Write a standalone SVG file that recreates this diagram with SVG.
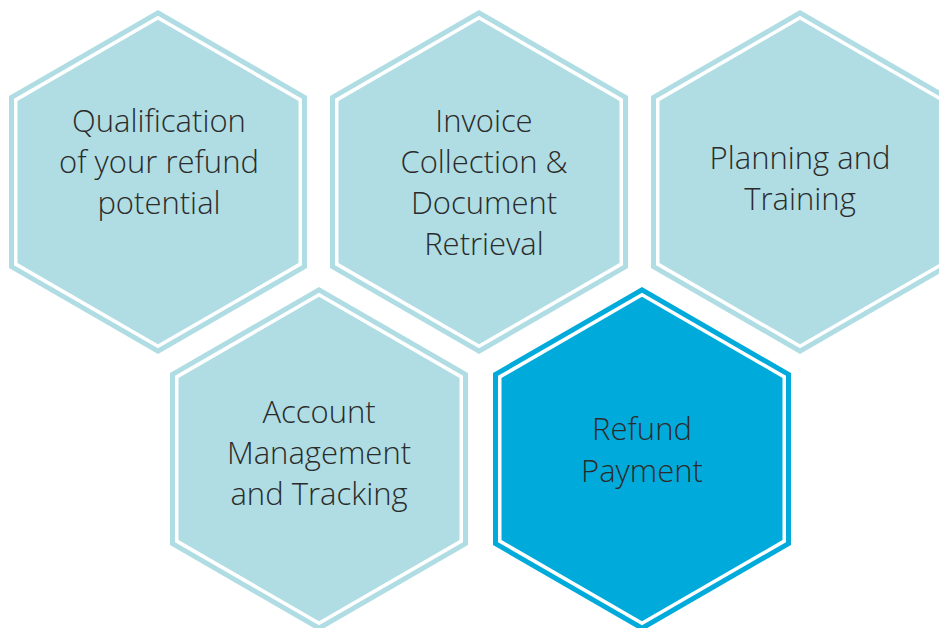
<svg xmlns="http://www.w3.org/2000/svg" xmlns:xlink="http://www.w3.org/1999/xlink" width="939" height="628" viewBox="0 0 939 628">
  <style>
    .light { fill: #AFDDE3; }
    .dark { fill: #00ABDC; }
    .gap { fill: #FFFFFF; }
    .lbl { font-family: "Open Sans", "Liberation Sans", sans-serif; font-weight: 300; font-size: 31px; fill: #2B2B2B; text-anchor: middle; }
  </style>
  <defs>
    <polygon id="hexOuter" points="0,-172.05 149,-86.03 149,86.03 0,172.05 -149,86.03 -149,-86.03"/>
    <polygon id="hexGap" points="0,-166.28 144,-83.14 144,83.14 0,166.28 -144,83.14 -144,-83.14"/>
    <polygon id="hexInner" points="0,-162.24 140.5,-81.12 140.5,81.12 0,162.24 -140.5,81.12 -140.5,-81.12"/>
  </defs>
  <rect width="939" height="628" fill="#FFFFFF"/>

  <g id="node-qualification">
    <g transform="translate(158,182)">
      <use xlink:href="#hexOuter" class="light"/>
      <use xlink:href="#hexGap" class="gap"/>
      <use xlink:href="#hexInner" class="light"/>
    </g>
    <text class="lbl" x="159" y="132">Qualification</text>
    <text class="lbl" x="159" y="173">of your refund</text>
    <text class="lbl" x="159" y="214">potential</text>
  </g>

  <g id="node-invoice">
    <g transform="translate(479,182)">
      <use xlink:href="#hexOuter" class="light"/>
      <use xlink:href="#hexGap" class="gap"/>
      <use xlink:href="#hexInner" class="light"/>
    </g>
    <text class="lbl" x="484" y="132">Invoice</text>
    <text class="lbl" x="484" y="173">Collection &amp;</text>
    <text class="lbl" x="484" y="214">Document</text>
    <text class="lbl" x="484" y="255">Retrieval</text>
  </g>

  <g id="node-planning">
    <g transform="translate(800,182)">
      <use xlink:href="#hexOuter" class="light"/>
      <use xlink:href="#hexGap" class="gap"/>
      <use xlink:href="#hexInner" class="light"/>
    </g>
    <text class="lbl" x="800" y="169">Planning and</text>
    <text class="lbl" x="800" y="210">Training</text>
  </g>

  <g id="node-account">
    <g transform="translate(319,459)">
      <use xlink:href="#hexOuter" class="light"/>
      <use xlink:href="#hexGap" class="gap"/>
      <use xlink:href="#hexInner" class="light"/>
    </g>
    <text class="lbl" x="319" y="423">Account</text>
    <text class="lbl" x="319" y="464">Management</text>
    <text class="lbl" x="319" y="505">and Tracking</text>
  </g>

  <g id="node-refund">
    <g transform="translate(642,459)">
      <use xlink:href="#hexOuter" class="dark"/>
      <use xlink:href="#hexGap" class="gap"/>
      <use xlink:href="#hexInner" class="dark"/>
    </g>
    <text class="lbl" x="642" y="440">Refund</text>
    <text class="lbl" x="642" y="482">Payment</text>
  </g>
</svg>
